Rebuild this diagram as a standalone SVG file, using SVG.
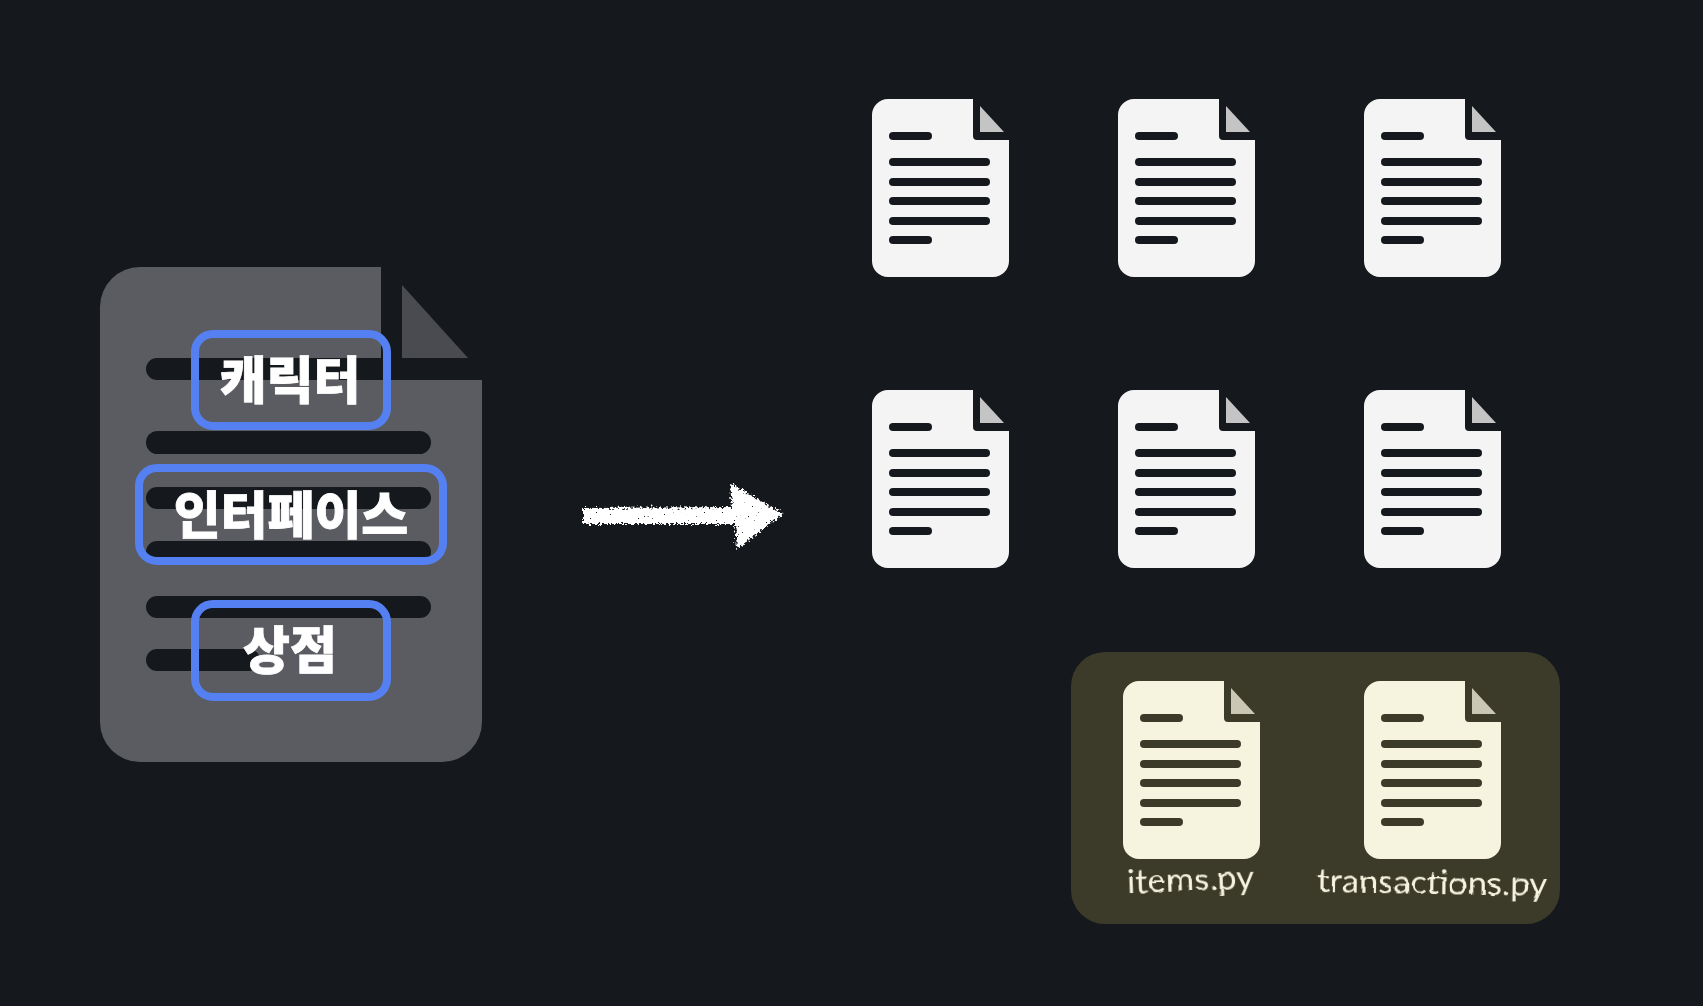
<svg xmlns="http://www.w3.org/2000/svg" width="1703" height="1006" viewBox="0 0 1703 1006">
<style>
.white{--p:#f4f4f4;--l:#15181c;--f:#c4c4c4}
.cream{--p:#f6f3df;--l:#3c3b2a;--f:#cac7b5}
.paper{fill:var(--p)}
.fold{fill:var(--f)}
.ln{fill:var(--l)}
.big-line{fill:#15181c}
.box{fill:none;stroke:#5480f2;stroke-width:8}
.kr{font-family:"Noto Sans CJK KR","Noto Sans",sans-serif;font-weight:900;font-size:51px;fill:#fff;stroke:#fff;stroke-width:.8;text-anchor:middle}
.fn{font-family:"Lato","Noto Sans",sans-serif;font-size:32px;fill:#f6f3df;filter:url(#hand)}
</style>
<defs>
<filter id="rough" x="-5%" y="-20%" width="110%" height="140%">
<feTurbulence type="fractalNoise" baseFrequency="0.45" numOctaves="3" seed="4" result="n"/>
<feDisplacementMap in="SourceGraphic" in2="n" scale="8" xChannelSelector="R" yChannelSelector="G" result="d"/>
<feTurbulence type="fractalNoise" baseFrequency="0.5" numOctaves="2" seed="11"/>
<feColorMatrix type="matrix" values="0 0 0 0 1 0 0 0 0 1 0 0 0 0 1 0 0 0 -22 17" result="holes"/>
<feComposite in="d" in2="holes" operator="in"/>
</filter>
<filter id="hand" x="-5%" y="-20%" width="110%" height="140%">
<feTurbulence type="fractalNoise" baseFrequency="0.06" numOctaves="2" seed="7"/>
<feDisplacementMap in="SourceGraphic" scale="3" xChannelSelector="R" yChannelSelector="G"/>
</filter>
<g id="doc">
<path class="paper" d="M16 0H101V37Q101 41 105 41H137V162A16 16 0 0 1 121 178H16A16 16 0 0 1 0 162V16A16 16 0 0 1 16 0Z"/>
<path class="fold" d="M108 7L132 33H108Z"/>
<rect class="ln" x="17" y="33" width="43" height="8" rx="4"/>
<rect class="ln" x="17" y="59" width="101" height="8" rx="4"/>
<rect class="ln" x="17" y="79" width="101" height="8" rx="4"/>
<rect class="ln" x="17" y="98" width="101" height="8" rx="4"/>
<rect class="ln" x="17" y="118" width="101" height="8" rx="4"/>
<rect class="ln" x="17" y="137" width="43" height="8" rx="4"/>
</g>
</defs>
<rect width="1703" height="1006" fill="#15181c"/>

<g id="source-doc">
<path fill="#5b5c61" d="M140 267H381V380H482V722A40 40 0 0 1 442 762H140A40 40 0 0 1 100 722V307A40 40 0 0 1 140 267Z"/>
<path fill="#4a4b50" d="M402 285L468 358H402Z"/>
<path class="big-line" d="M157 358H381V380H157A11 11 0 0 1 157 358Z"/>
<rect class="big-line" x="146" y="431" width="285" height="23" rx="11.500"/>
<rect class="big-line" x="146" y="487" width="285" height="22" rx="11"/>
<rect class="big-line" x="146" y="541" width="285" height="22" rx="11"/>
<rect class="big-line" x="146" y="596" width="285" height="22" rx="11"/>
<rect class="big-line" x="146" y="649" width="114" height="22" rx="11"/>
</g>

<g id="label-character">
<rect class="box" x="195" y="334" width="192" height="92" rx="18"/>
<text class="kr" x="290" y="399">캐릭터</text>
</g>
<g id="label-interface">
<rect class="box" x="139" y="468" width="304" height="93" rx="18"/>
<text class="kr" x="291" y="534">인터페이스</text>
</g>
<g id="label-shop">
<rect class="box" x="195" y="604" width="192" height="93" rx="18"/>
<text class="kr" x="290" y="669">상점</text>
</g>

<g id="connectors">
<path fill="#fff" filter="url(#rough)" d="M583 508L732 507L730 483L783 514L737 549L735 524L583 524Z"/>
</g>

<g id="doc-1"><use href="#doc" class="white" x="872" y="99"/></g>
<g id="doc-2"><use href="#doc" class="white" x="1118" y="99"/></g>
<g id="doc-3"><use href="#doc" class="white" x="1364" y="99"/></g>
<g id="doc-4"><use href="#doc" class="white" x="872" y="390"/></g>
<g id="doc-5"><use href="#doc" class="white" x="1118" y="390"/></g>
<g id="doc-6"><use href="#doc" class="white" x="1364" y="390"/></g>

<g id="panel"><rect x="1071" y="652" width="489" height="272" rx="34" fill="#3c3b2a"/></g>
<g id="items-py">
<use href="#doc" class="cream" x="1123" y="681"/>
<text class="fn" x="1127" y="891" textLength="127" lengthAdjust="spacingAndGlyphs" transform="rotate(-2 1190 882)">items.py</text>
</g>
<g id="transactions-py">
<use href="#doc" class="cream" x="1364" y="681"/>
<text class="fn" x="1317" y="894" textLength="230" lengthAdjust="spacingAndGlyphs" transform="rotate(1 1432 886)">transactions.py</text>
</g>
</svg>
